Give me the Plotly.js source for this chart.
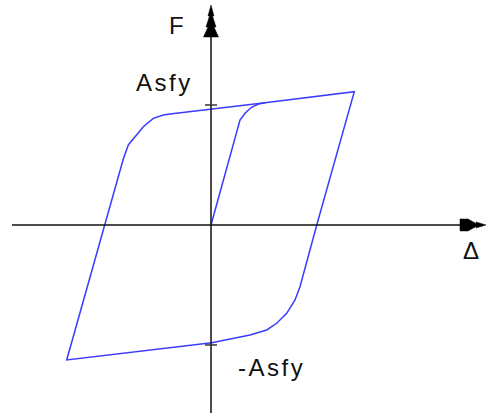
<!DOCTYPE html>
<html>
<head>
<meta charset="utf-8">
<script src="https://cdn.plot.ly/plotly-3.0.1.min.js"></script>
<style>
  html, body { margin: 0; padding: 0; background: #fff; }
  #chart { width: 486px; height: 413px; }
  .annotation-text { letter-spacing: 2.5px; }
</style>
</head>
<body>
<div id="chart"></div>
<script>
// Bilinear hysteresis loop, F vs displacement (normalised: Asfy = 1)
const loadD = [0, 0.50, 0.58, 0.68, 0.81, 0.95, 1.08];
const loadF = [0, 0.74, 0.875, 0.931, 0.981, 1.008, 1.019];

const loopD = [1.08, 2.866, 2.115, 1.78, 1.68, 1.514, 1.314, 1.114, 0.78, 0.014, -2.886,
               -2.125, -1.754, -1.654, -1.52, -1.354, -1.154, -0.954, -0.82, 0, 1.08];
const loopF = [1.019, 1.111, 0, -0.514, -0.625, -0.736, -0.819, -0.875, -0.917, -0.981, -1.125,
               0, 0.549, 0.667, 0.736, 0.819, 0.889, 0.917, 0.925, 0.967, 1.019];

const Asfy = 1;
const labels = { force: 'F', disp: 'Δ', pos: 'Asfy', neg: '-Asfy' };

// Axis extents
const W = 486, H = 413;
const xRange = [-4.22, 5.5];
const yRange = [-1.567, 1.875];
const dx = (xRange[1] - xRange[0]) / W;   // data units per pixel
const dy = (yRange[1] - yRange[0]) / H;

const lineColor = '#3b3bff';
const axisColor = '#111';

// Arrowheads built from pixel offsets relative to the axis ends
function pathFrom(pts) {
  return 'M' + pts.map(p => p[0].toFixed(4) + ',' + p[1].toFixed(4)).join(' L') + ' Z';
}
const yTip = yRange[1] - 5 * dy;
const yArrow = pathFrom([
  [0, yTip],
  [-3 * dx, yTip - 11 * dy],
  [-1.5 * dx, yTip - 11 * dy],
  [-5 * dx, yTip - 22 * dy],
  [-3 * dx, yTip - 22 * dy],
  [-7.5 * dx, yTip - 32 * dy],
  [7.5 * dx, yTip - 32 * dy],
  [3 * dx, yTip - 22 * dy],
  [5 * dx, yTip - 22 * dy],
  [1.5 * dx, yTip - 11 * dy],
  [3 * dx, yTip - 11 * dy]
]);
const xTip = xRange[1];
const xArrow = pathFrom([
  [xTip, 0],
  [xTip - 10 * dx, 3 * dy],
  [xTip - 10 * dx, 1.5 * dy],
  [xTip - 18 * dx, 6 * dy],
  [xTip - 26 * dx, 6 * dy],
  [xTip - 26 * dx, -6 * dy],
  [xTip - 18 * dx, -6 * dy],
  [xTip - 10 * dx, -1.5 * dy],
  [xTip - 10 * dx, -3 * dy]
]);

const traces = [
  { x: loadD, y: loadF, mode: 'lines', line: { color: lineColor, width: 1.5 }, hoverinfo: 'skip' },
  { x: loopD, y: loopF, mode: 'lines', line: { color: lineColor, width: 1.5 }, hoverinfo: 'skip' }
];

const shapes = [
  // horizontal axis
  { type: 'line', x0: xRange[0] + 12 * dx, x1: xTip - 20 * dx, y0: 0, y1: 0,
    line: { color: axisColor, width: 1.5 } },
  // vertical axis
  { type: 'line', x0: 0, x1: 0, y0: yRange[0], y1: yTip - 28 * dy,
    line: { color: axisColor, width: 1.5 } },
  { type: 'path', path: yArrow, fillcolor: '#000', line: { color: '#000', width: 0.5 } },
  { type: 'path', path: xArrow, fillcolor: '#000', line: { color: '#000', width: 0.5 } },
  // ticks at ±Asfy
  { type: 'line', x0: -6 * dx, x1: 6 * dx, y0: Asfy, y1: Asfy, line: { color: '#333', width: 1.5 } },
  { type: 'line', x0: -6 * dx, x1: 6 * dx, y0: -Asfy, y1: -Asfy, line: { color: '#333', width: 1.5 } }
];

const font = { family: 'Liberation Sans, Arial, sans-serif', size: 24, color: '#111' };
const annotations = [
  { text: labels.force, x: -34 * dx, y: yRange[1] - 25 * dy, showarrow: false, font: font,
    xanchor: 'center', yanchor: 'middle' },
  { text: labels.pos, x: -77 * dx, y: Asfy + 22 * dy, showarrow: false, font: font,
    xanchor: 'left', yanchor: 'middle' },
  { text: labels.disp, x: xTip - 14 * dx, y: -26 * dy, showarrow: false, font: font,
    xanchor: 'center', yanchor: 'middle' },
  { text: labels.neg, x: 25 * dx, y: -Asfy - 23 * dy, showarrow: false, font: font,
    xanchor: 'left', yanchor: 'middle' }
];

const layout = {
  width: W, height: H,
  margin: { l: 0, r: 0, t: 0, b: 0, pad: 0 },
  paper_bgcolor: '#fff', plot_bgcolor: '#fff',
  showlegend: false,
  xaxis: { range: xRange, visible: false, fixedrange: true },
  yaxis: { range: yRange, visible: false, fixedrange: true },
  shapes: shapes,
  annotations: annotations
};

Plotly.newPlot('chart', traces, layout, { staticPlot: true });
</script>
</body>
</html>
